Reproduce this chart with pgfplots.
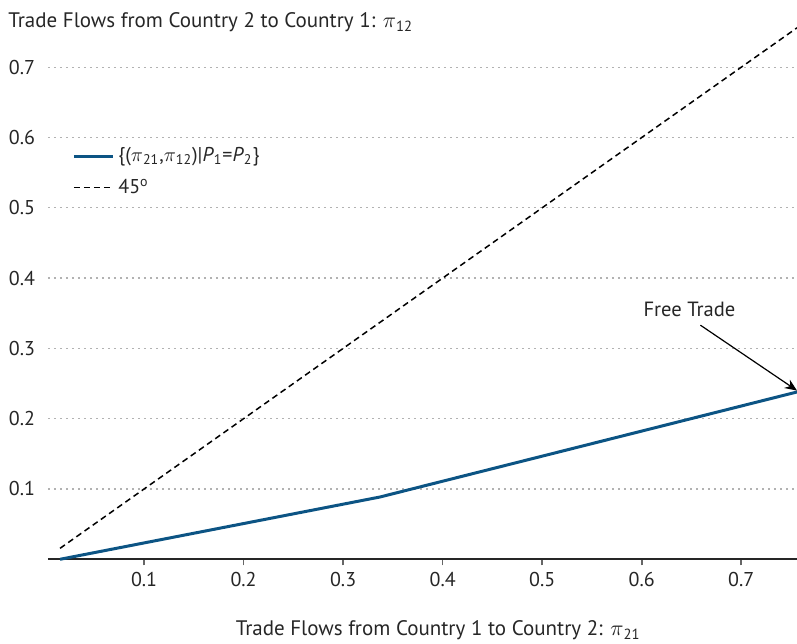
\documentclass[border=0pt]{standalone}
\usepackage{pgfplots}
\pgfplotsset{compat=1.18}
\usetikzlibrary{arrows.meta}
\usepackage{fontspec}
\setmainfont{PT Sans}
\definecolor{blueline}{RGB}{12,84,132}
\begin{document}
\begin{tikzpicture}
\begin{axis}[
  name=ax,
  scale only axis,
  width=374.5pt, height=268.9pt,
  xmin=0.0035, xmax=0.756,
  ymin=0, ymax=0.765,
  axis x line*=bottom, axis y line*=left,
  y axis line style={draw=none},
  x axis line style={line width=1.2pt, black!85},
  xtick={0.1,0.2,0.3,0.4,0.5,0.6,0.7},
  ytick={0.1,0.2,0.3,0.4,0.5,0.6,0.7},
  xticklabels={0.1,0.2,0.3,0.4,0.5,0.6,0.7},
  yticklabels={0.1,0.2,0.3,0.4,0.5,0.6,0.7},
  tick label style={font=\fontsize{10}{12}\selectfont, black!85},
  xtick style={draw=black!60, line width=0.8pt},
  ytick style={draw=none},
  tick align=outside,
  major tick length=3pt,
  ymajorgrids,
  grid style={draw=gray!60, line width=0.6pt, dash pattern=on 1pt off 2pt},
  clip=false,
  legend style={at={(axis description cs:0.024,0.781)}, anchor=north west, draw=none, fill=none,
    font=\fontsize{10}{12}\selectfont, row sep=3pt, text=black!85,
    /tikz/every even column/.append style={column sep=0pt}},
  legend image code/.code={\draw[#1] (0pt,0pt) -- (19.5pt,0pt);},
  legend cell align=left,
]
\addplot[blueline, line width=1.5pt] coordinates {(0.0156,0) (0.337,0.0886) (0.756,0.238)};
\addlegendentry{\{($\pi$\textsubscript{21},$\pi$\textsubscript{12})|\textit{P}\textsubscript{1}=\textit{P}\textsubscript{2}\}}
\addplot[black, line width=0.75pt, dash pattern=on 3pt off 2pt] coordinates {(0.0156,0.0156) (0.756,0.756)};
\addlegendentry{45\textsuperscript{o}}
\node[anchor=base west, font=\fontsize{10.5}{13}\selectfont, text=black!85, inner sep=0pt] at (axis description cs:-0.0534,0.988) {Trade Flows from Country 2 to Country 1: $\pi$\textsubscript{12}};
\node[anchor=base, font=\fontsize{10.5}{13}\selectfont, text=black!85, inner sep=0pt] at (axis description cs:0.521,-0.1426) {Trade Flows from Country 1 to Country 2: $\pi$\textsubscript{21}};
\node[font=\fontsize{10.3}{12}\selectfont, text=black!85] at (axis cs:0.648,0.355) {Free Trade};
\draw[-{Stealth[length=6pt,width=5pt]}, black, line width=0.6pt] (axis cs:0.659,0.333) -- (axis cs:0.756,0.240);
\end{axis}
\pgfresetboundingbox
\path (ax.south west) ++(-24pt,-42.35pt) coordinate (bl);
\path (ax.north east) ++(0pt,10.75pt) coordinate (tr);
\useasboundingbox (bl) rectangle (tr);
\end{tikzpicture}
\end{document}
